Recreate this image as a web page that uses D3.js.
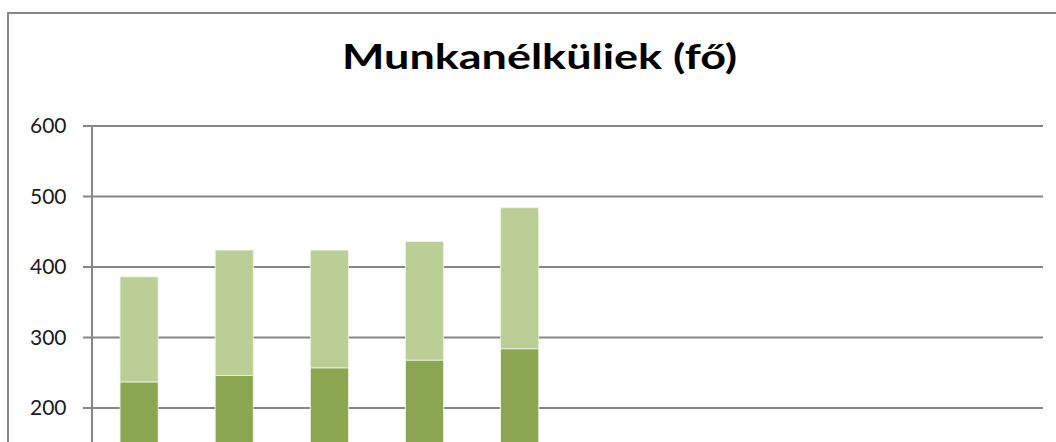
<!DOCTYPE html>
<html>
<head>
<meta charset="utf-8">
<script src="https://cdn.jsdelivr.net/npm/d3@7"></script>
<style>
  html, body { margin: 0; padding: 0; background: #fff; overflow: hidden; }
  svg { display: block; }
</style>
</head>
<body>
<script>
const categories = ["2008", "2009", "2010", "2011", "2012", "2013", "2014", "2015", "2016", "2017"];
const seriesNames = ["Sorozat1", "Sorozat2"];
const lowerValues = [237, 246, 257, 268, 284, null, null, null, null, null];
const upperValues = [149, 178, 167, 168, 200, null, null, null, null, null];
const yTicks = [200, 300, 400, 500, 600];
const titleText = "Munkanélküliek (fő)";

const W = 1056, H = 442;
const svg = d3.select("body").append("svg").attr("width", W).attr("height", H);

// chart border
svg.append("rect")
  .attr("x", 8).attr("y", 13).attr("width", 1080).attr("height", 700)
  .attr("fill", "#fff").attr("stroke", "#868686").attr("stroke-width", 2);

const plotLeft = 91.5, plotRight = 1043;
const y = d3.scaleLinear().domain([0, 600]).range([549, 126]);
const x = d3.scaleBand().domain(categories).range([plotLeft, plotRight])
  .paddingInner(0.6).paddingOuter(0.3);

// gridlines
svg.append("g").selectAll("line").data(yTicks).join("line")
  .attr("x1", 83).attr("x2", plotRight)
  .attr("y1", d => y(d)).attr("y2", d => y(d))
  .attr("stroke", "#868686").attr("stroke-width", 2);

// y axis
const yAxis = d3.axisLeft(y).tickValues(yTicks).tickSize(0).tickPadding(25);
const ga = svg.append("g").attr("transform", `translate(${plotLeft},0)`).call(yAxis);
ga.select(".domain").attr("stroke", "#868686").attr("stroke-width", 2);
ga.selectAll("text")
  .attr("font-family", "Lato, sans-serif")
  .attr("font-size", 21).attr("fill", "#1a1a1a");

// stacked data
const rows = categories.map((c, i) => ({ cat: c, lower: lowerValues[i], upper: upperValues[i] }))
  .filter(r => r.lower != null);
const stack = d3.stack().keys(["lower", "upper"]);
const stacked = stack(rows);
const colors = ["#8BA650", "#BACE96"];

svg.append("g").selectAll("g").data(stacked).join("g")
  .attr("fill", (d, i) => colors[i])
  .selectAll("rect").data(d => d).join("rect")
  .attr("x", d => x(d.data.cat))
  .attr("width", x.bandwidth())
  .attr("y", d => y(d[1]))
  .attr("height", d => y(d[0]) - y(d[1]))
  .attr("stroke", "#eef5e4").attr("stroke-width", 0.8);

// title
svg.append("text")
  .attr("x", 539.5).attr("y", 69)
  .attr("text-anchor", "middle")
  .attr("font-family", "Lato, sans-serif")
  .attr("font-weight", "bold")
  .attr("font-size", 35)
  .attr("textLength", 395).attr("lengthAdjust", "spacingAndGlyphs")
  .attr("fill", "#000")
  .text(titleText);
</script>
</body>
</html>
